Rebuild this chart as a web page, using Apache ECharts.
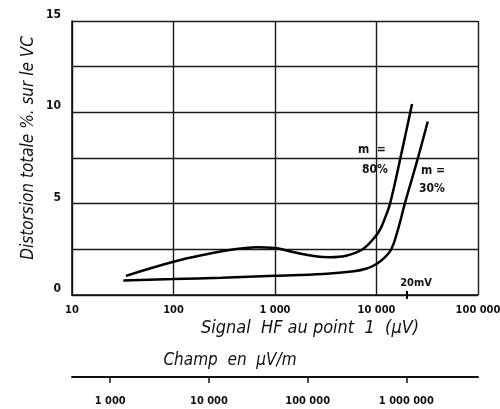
<!DOCTYPE html>
<html><head><meta charset="utf-8">
<script src="https://cdn.jsdelivr.net/npm/echarts@6/dist/echarts.min.js"></script>
<style>html,body{margin:0;padding:0;background:#fff}#c{width:500px;height:409px}</style>
</head><body><div id="c"></div>
<script>
// Data
const signal80 = [34, 100, 200, 400, 650, 1000, 1500, 2500, 3500, 5000, 7300, 10000, 11000, 12000, 13600, 18000, 22400];
const dist80   = [1.05, 1.82, 2.2, 2.5, 2.62, 2.57, 2.35, 2.12, 2.07, 2.15, 2.5, 3.28, 3.65, 4.15, 5.0, 8.0, 10.45];
const signal30 = [32, 100, 300, 1000, 3000, 6000, 8000, 10000, 12000, 14000, 16500, 19000, 25000, 32000];
const dist30   = [0.8, 0.87, 0.95, 1.05, 1.15, 1.3, 1.45, 1.7, 2.05, 2.5, 3.7, 5.0, 7.3, 9.5];
const signalTicks = [10, 100, 1000, 10000, 100000];
const signalTickLabels = ['10', '100', '1 000', '10 000', '100 000'];
const fieldTicks = [1000, 10000, 100000, 1000000];
const fieldTickLabels = ['1 000', '10 000', '100 000', '1 000 000'];
const distLabels = [0, 5, 10, 15];
const marker20mV = [20000];

const chart = echarts.init(document.getElementById('c'), null, {renderer: 'canvas'});
const FAM = "'DejaVu Sans Condensed', 'DejaVu Sans', sans-serif";
const labFont = {fontFamily: FAM, fontWeight: 'bold', fontSize: 11, color: '#111'};
const titleFont = {fontFamily: FAM, fontStyle: 'italic', fontSize: 17, fill: '#111'};
const annFont = {fontFamily: FAM, fontWeight: 'bold', fontSize: 12, fill: '#111'};
const pair = (xs, ys) => xs.map((x, i) => [x, ys[i]]);

chart.setOption({
  animation: false,
  grid: {left: 72, right: 22, top: 21, bottom: 114, containLabel: false, outerBoundsMode: 'none'},
  xAxis: [{
    type: 'log', min: 10, max: 100000, logBase: 10,
    axisLine: {show: true, lineStyle: {color: '#111', width: 1.6}},
    axisTick: {show: false},
    splitLine: {show: true, lineStyle: {color: '#1a1a1a', width: 1.4}},
    axisLabel: Object.assign({margin: 10, formatter: v => {
      const i = signalTicks.indexOf(Math.round(v)); return i >= 0 ? signalTickLabels[i] : '';
    }}, labFont)
  }, {
    type: 'log', min: 410, max: 5320000, position: 'bottom', offset: 82,
    axisLine: {show: true, onZero: false, lineStyle: {color: '#111', width: 2}},
    axisTick: {show: true, length: 6, lineStyle: {color: '#111', width: 1.5}, customValues: fieldTicks},
    splitLine: {show: false},
    axisLabel: Object.assign({margin: 19, customValues: fieldTicks, formatter: v => {
      const i = fieldTicks.indexOf(Math.round(v)); return i >= 0 ? fieldTickLabels[i] : '';
    }}, labFont)
  }, {
    type: 'log', min: 10, max: 100000, position: 'bottom', offset: -4,
    axisLine: {show: false},
    axisTick: {show: true, length: 8, lineStyle: {color: '#000', width: 2}, customValues: marker20mV},
    axisLabel: {show: false}, splitLine: {show: false}
  }],
  yAxis: {
    type: 'value', min: 0, max: 15, interval: 2.5,
    axisLine: {show: true, lineStyle: {color: '#111', width: 1.6}},
    axisTick: {show: false},
    splitLine: {show: true, lineStyle: {color: '#1a1a1a', width: 1.4}},
    axisLabel: Object.assign({margin: 11, verticalAlign: 'bottom', formatter: v => distLabels.indexOf(v) >= 0 ? String(v) : ''}, labFont, {fontSize: 12})
  },
  series: [{
    type: 'line', name: 'm = 80%', data: pair(signal80, dist80), smooth: 0.4,
    showSymbol: false, lineStyle: {color: '#000', width: 2.5}
  }, {
    type: 'line', name: 'm = 30%', data: pair(signal30, dist30), smooth: 0.4,
    showSymbol: false, lineStyle: {color: '#000', width: 2.5}
  }],
  graphic: [
    {type: 'text', x: 29, y: 148, rotation: Math.PI / 2,
      style: Object.assign({text: 'Distorsion totale %. sur le VC', align: 'center', verticalAlign: 'middle'}, titleFont)},
    {type: 'text', x: 310, y: 328, style: Object.assign({text: 'Signal  HF au point  1  (µV)', align: 'center', verticalAlign: 'middle'}, titleFont, {fontSize: 18})},
    {type: 'text', x: 230, y: 361, style: Object.assign({text: 'Champ  en  µV/m', align: 'center', verticalAlign: 'middle'}, titleFont)},
    {type: 'text', x: 416, y: 283, style: Object.assign({text: '20mV', align: 'center', verticalAlign: 'middle'}, annFont, {fontSize: 11})},
    {type: 'text', x: 372, y: 150, style: Object.assign({text: 'm  =', align: 'center', verticalAlign: 'middle'}, annFont)},
    {type: 'text', x: 375, y: 170, style: Object.assign({text: '80%', align: 'center', verticalAlign: 'middle'}, annFont)},
    {type: 'text', x: 433, y: 171, style: Object.assign({text: 'm =', align: 'center', verticalAlign: 'middle'}, annFont)},
    {type: 'text', x: 432, y: 189, style: Object.assign({text: '30%', align: 'center', verticalAlign: 'middle'}, annFont)}
  ]
});
</script></body></html>
